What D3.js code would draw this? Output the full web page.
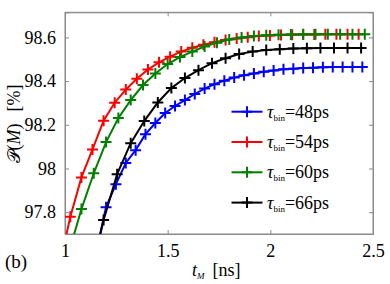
<!DOCTYPE html>
<html><head><meta charset="utf-8">
<script src="https://cdn.jsdelivr.net/npm/d3@7"></script>
<style>
html,body{margin:0;padding:0;background:#fff;}
svg{display:block;}
</style></head>
<body><svg id="c" width="390" height="284" style="font-family:'Liberation Serif','Times New Roman','DejaVu Serif',serif"></svg>
<script>
// bin widths (ns) and series data: value at t = (firstBin + i) * tau
const labels = ["48ps", "54ps", "60ps", "66ps"];
const colors = ["#0000ff", "#ff0000", "#008000", "#000000"];
const taus = [0.048, 0.054, 0.060, 0.066];
const firstBins = [24, 18, 17, 17];
const blueVals = [97.62, 97.823, 97.928, 98.025, 98.084, 98.157, 98.208, 98.254, 98.286, 98.313, 98.341, 98.366, 98.386, 98.402, 98.416, 98.427, 98.435, 98.443, 98.449, 98.454, 98.457, 98.460, 98.461, 98.463, 98.464, 98.464, 98.465, 98.465];
const redVals = [97.55, 97.779, 97.959, 98.087, 98.219, 98.301, 98.361, 98.411, 98.453, 98.486, 98.512, 98.535, 98.553, 98.567, 98.578, 98.588, 98.595, 98.601, 98.606, 98.609, 98.611, 98.612, 98.613, 98.613, 98.614, 98.614, 98.614, 98.614];
const greenVals = [97.62, 97.814, 97.978, 98.121, 98.231, 98.313, 98.382, 98.435, 98.478, 98.510, 98.535, 98.558, 98.576, 98.590, 98.600, 98.607, 98.610, 98.612, 98.613, 98.614, 98.614, 98.615, 98.615, 98.615, 98.615];
const blackVals = [97.49, 97.764, 97.974, 98.116, 98.217, 98.302, 98.368, 98.414, 98.450, 98.482, 98.505, 98.524, 98.535, 98.542, 98.546, 98.549, 98.550, 98.551, 98.552, 98.552, 98.552];
const xTicks = [1, 1.5, 2, 2.5];
const yTicks = [97.8, 98, 98.2, 98.4, 98.6];

const allVals = [blueVals, redVals, greenVals, blackVals];
const series = allVals.map((vals, s) => ({
  label: labels[s], color: colors[s],
  pts: vals.map((v, i) => ({t: +((firstBins[s] + i) * taus[s]).toFixed(4), v}))
}));

const FF = "'Liberation Serif','Times New Roman','DejaVu Serif',serif";
const svg = d3.select("#c");
const L = 65, R = 373, T = 12.3, B = 234;
const x = d3.scaleLinear().domain([1, 2.5]).range([L, R]);
const y = d3.scaleLinear().domain([97.7, 98.715]).range([B, T]);
const axisCol = "#8a8a8a";

svg.append("defs").append("clipPath").attr("id", "clip")
  .append("rect").attr("x", L).attr("y", T).attr("width", R - L).attr("height", B - T);

svg.append("rect").attr("x", L).attr("y", T).attr("width", R - L).attr("height", B - T)
  .attr("fill", "none").attr("stroke", axisCol).attr("stroke-width", 1);

const fmt = d => d3.format("")(d);
const xb = svg.append("g").attr("transform", `translate(0,${B})`)
  .call(d3.axisBottom(x).tickValues(xTicks).tickSize(-4).tickPadding(10).tickFormat(fmt));
const xt = svg.append("g").attr("transform", `translate(0,${T})`)
  .call(d3.axisTop(x).tickValues(xTicks).tickSize(-4).tickFormat(""));
const yl = svg.append("g").attr("transform", `translate(${L},0)`)
  .call(d3.axisLeft(y).tickValues(yTicks).tickSize(-4).tickPadding(9).tickFormat(fmt));
const yr = svg.append("g").attr("transform", `translate(${R},0)`)
  .call(d3.axisRight(y).tickValues(yTicks).tickSize(-4).tickFormat(""));
[xb, xt, yl, yr].forEach(g => {
  g.attr("font-family", null).attr("font-size", null);
  g.select(".domain").attr("stroke", axisCol);
  g.selectAll(".tick line").attr("stroke", axisCol);
  g.selectAll("text").style("font-family", FF).style("font-size", "18px").attr("fill", "#000");
});

const line = d3.line().x(d => x(d.t)).y(d => y(d.v));
const plot = svg.append("g").attr("clip-path", "url(#clip)");
const ms = 5.5;
function plus(g, cx, cy, color) {
  g.append("path").attr("d", `M${cx - ms},${cy}H${cx + ms}M${cx},${cy - ms}V${cy + ms}`)
    .attr("stroke", color).attr("stroke-width", 2).attr("fill", "none");
}
series.forEach(s => {
  plot.append("path").datum(s.pts).attr("d", line)
    .attr("fill", "none").attr("stroke", s.color).attr("stroke-width", 2);
  s.pts.filter(p => p.t >= 1 && p.v >= 97.7).forEach(p => plus(plot, x(p.t), y(p.v), s.color));
});

function txt(sel) { return sel.style("font-family", FF); }

const lg = svg.append("g");
series.forEach((s, i) => {
  const cy = 111.7 + i * 30.3;
  lg.append("line").attr("x1", 231.5).attr("x2", 262.5).attr("y1", cy).attr("y2", cy)
    .attr("stroke", s.color).attr("stroke-width", 2);
  plus(lg, 247, cy, s.color);
  const t = txt(lg.append("text")).attr("x", 267).attr("y", cy + 6).style("font-size", "18px");
  t.append("tspan").attr("font-style", "italic").text("τ");
  t.append("tspan").style("font-size", "9px").attr("dy", 3).text("bin");
  t.append("tspan").attr("dy", -3).text("=" + s.label);
});

const xlab = txt(svg.append("text")).attr("x", 192).attr("y", 276).style("font-size", "18px");
xlab.append("tspan").attr("font-style", "italic").text("t");
xlab.append("tspan").attr("font-style", "italic").style("font-size", "9px").attr("dy", 3).text("M");
xlab.append("tspan").attr("dy", -3).attr("dx", 8).text("[ns]");

const ylab = txt(svg.append("text")).attr("transform", "translate(20,124) rotate(-90)")
  .attr("text-anchor", "middle").style("font-size", "18px");
ylab.append("tspan").text("𝒫(");
ylab.append("tspan").attr("font-style", "italic").text("M");
ylab.append("tspan").text(")");
ylab.append("tspan").attr("dx", 12).text("[%]");

txt(svg.append("text")).attr("x", 5).attr("y", 268).style("font-size", "19px").text("(b)");
</script></body></html>
